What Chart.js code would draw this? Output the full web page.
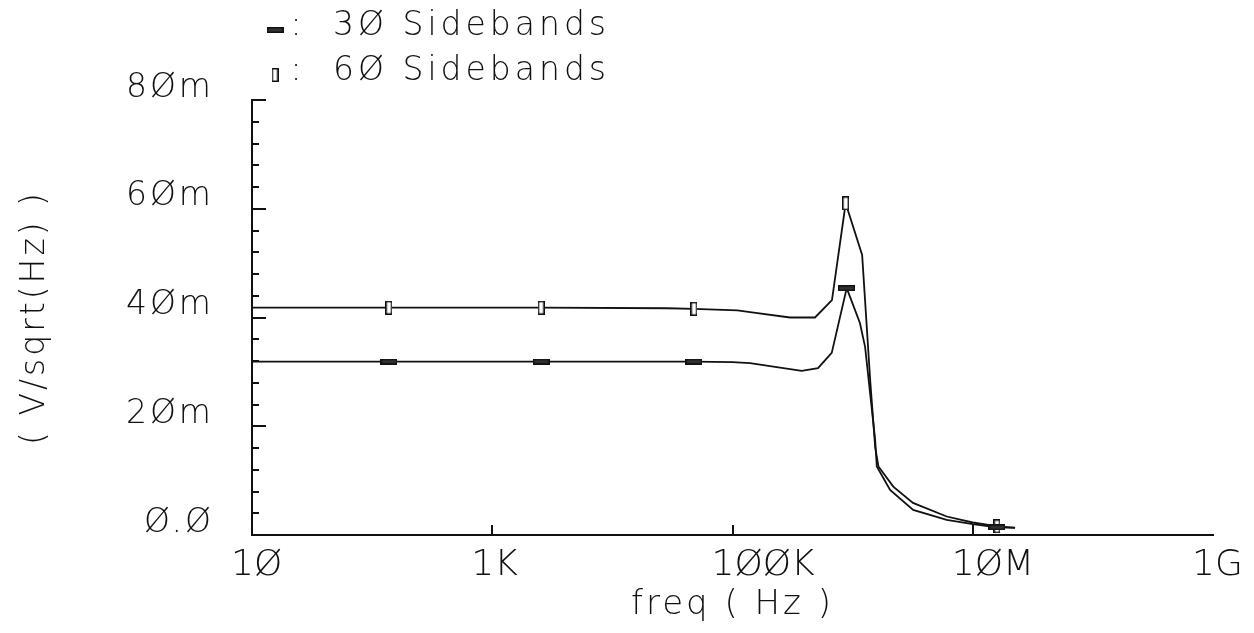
<!DOCTYPE html>
<html>
<head>
<meta charset="utf-8">
<script src="https://cdn.jsdelivr.net/npm/chart.js@4/dist/chart.umd.min.js"></script>
<style>
  html, body { margin: 0; padding: 0; background: #fff; }
  canvas { display: block; }
</style>
</head>
<body>
<canvas id="noiseChart" width="1254" height="633"></canvas>
<script>
// axis ticks
const xTickValues = [10, 1e3, 1e5, 1e7, 1e9];
const xTickLabels = ['1Ø', '1K', '1ØØK', '1ØM', '1G'];
const yTickValues = [0, 20, 40, 60, 80];
const yTickLabels = ['Ø.Ø', '2Øm', '4Øm', '6Øm', '8Øm'];

// 30 sidebands (values in mV/sqrt(Hz))
const freq30 = [10, 138, 2550, 47800, 100000, 140000, 377000, 515000, 670000, 893000,
  1150000, 1270000, 1540000, 1590000, 2050000, 3190000, 6070000, 10000000, 15900000, 22500000];
const vals30 = [31.9, 31.9, 31.9, 31.9, 31.8, 31.6, 30.2, 30.7, 33.5, 45.4,
  39.0, 34.6, 17.5, 12.6, 8.3, 4.6, 2.8, 2.0, 1.4, 1.3];
const markers30 = [138, 2550, 47800, 893000, 15900000];

// 60 sidebands
const freq60 = [10, 138, 2550, 28500, 47800, 110000, 140000, 301000, 486000, 673000, 875000,
  1200000, 1400000, 1540000, 1640000, 2180000, 3180000, 6070000, 10000000, 13900000, 15900000, 22500000];
const vals60 = [41.8, 41.8, 41.8, 41.7, 41.6, 41.3, 41.0, 40.0, 40.0, 43.2, 61.0,
  51.5, 28.5, 16.2, 12.6, 8.9, 5.9, 3.4, 2.3, 1.8, 1.6, 1.35];
const markers60 = [138, 2550, 47800, 875000, 15900000];

const seriesLabels = ['3Ø Sidebands', '6Ø Sidebands'];

const FAMILY = '"DejaVu Sans", sans-serif';
const FONT = { family: FAMILY, size: 33, weight: 200 };
const XFONT = { family: FAMILY, size: 36, weight: 200 };
const TFONT = { family: FAMILY, size: 34, weight: 200 };
const INK = '#111';

function makeMarker(w, h, fill) {
  const c = document.createElement('canvas');
  c.width = w; c.height = h;
  const g = c.getContext('2d');
  g.fillStyle = fill;
  g.fillRect(0, 0, w, h);
  g.strokeStyle = INK;
  g.lineWidth = 1.5;
  g.strokeRect(0.75, 0.75, w - 1.5, h - 1.5);
  return c;
}
const mark30 = makeMarker(17, 6, '#333');
const mark60 = makeMarker(7, 14, '#fff');

function toPoints(xs, ys) {
  return xs.map((f, i) => ({ x: f, y: ys[i] }));
}

const textSpacing = {
  id: 'textSpacing',
  beforeDraw(chart) { chart.ctx.letterSpacing = '3px'; }
};

// small inward tick marks, like the simulator plot
const innerTicks = {
  id: 'innerTicks',
  afterDraw(chart) {
    const { ctx, chartArea: a } = chart;
    const xs = chart.scales.x, ys = chart.scales.y;
    ctx.save();
    ctx.strokeStyle = INK;
    ctx.lineWidth = 2;
    ctx.beginPath();
    ys.ticks.forEach(t => {
      const py = Math.round(ys.getPixelForValue(t.value));
      const len = yTickValues.includes(t.value) ? 14 : 7;
      ctx.moveTo(a.left, py);
      ctx.lineTo(a.left + len, py);
    });
    xs.ticks.forEach(t => {
      if (t.value === xs.min || t.value === xs.max) return;
      const px = Math.round(xs.getPixelForValue(t.value));
      ctx.moveTo(px, a.bottom);
      ctx.lineTo(px, a.bottom - 10);
    });
    ctx.stroke();
    ctx.restore();
  }
};

const markerLegend = {
  id: 'markerLegend',
  afterDraw(chart) {
    const ctx = chart.ctx;
    const rows = [35, 80];
    const marks = [mark30, mark60];
    const markY = [30, 75];
    ctx.save();
    ctx.fillStyle = INK;
    ctx.font = `${FONT.weight} ${FONT.size}px ${FONT.family}`;
    ctx.letterSpacing = '4px';
    ctx.textBaseline = 'alphabetic';
    chart.data.datasets.forEach((ds, i) => {
      const m = marks[i];
      ctx.drawImage(m, 275 - m.width / 2, markY[i] - m.height / 2);
      ctx.textAlign = 'center';
      ctx.fillText(':', 298, rows[i]);
      ctx.textAlign = 'left';
      ctx.fillText(ds.label, 333, rows[i]);
    });
    ctx.restore();
  }
};

new Chart(document.getElementById('noiseChart'), {
  type: 'line',
  data: {
    datasets: [
      {
        label: seriesLabels[0],
        data: toPoints(freq30, vals30),
        borderColor: INK,
        borderWidth: 1.8,
        pointStyle: mark30,
        pointRadius: freq30.map(f => markers30.includes(f) ? 4 : 0),
        tension: 0
      },
      {
        label: seriesLabels[1],
        data: toPoints(freq60, vals60),
        borderColor: INK,
        borderWidth: 1.8,
        pointStyle: mark60,
        pointRadius: freq60.map(f => markers60.includes(f) ? 4 : 0),
        tension: 0
      }
    ]
  },
  options: {
    responsive: false,
    animation: false,
    devicePixelRatio: 1,
    layout: { padding: { top: 100, right: 41, bottom: 0, left: 0 } },
    plugins: {
      legend: { display: false },
      tooltip: { enabled: false }
    },
    scales: {
      x: {
        type: 'logarithmic',
        min: 10,
        max: 1e9,
        afterBuildTicks: s => { s.ticks = xTickValues.map(v => ({ value: v })); },
        afterFit: s => {
          s.height = 98;
          s.paddingLeft = 0;
          s.paddingRight = 0;
          // frequency labels are drawn without the extra letter spacing
          const drawLabels = s.drawLabels;
          s.drawLabels = function (area) {
            this.ctx.save();
            this.ctx.letterSpacing = '0px';
            drawLabels.call(this, area);
            this.ctx.restore();
          };
        },
        grid: { display: false },
        border: { display: true, color: INK, width: 2 },
        ticks: {
          autoSkip: false,
          maxRotation: 0,
          minRotation: 0,
          align: 'start',
          labelOffset: -21,
          padding: 1,
          color: INK,
          font: XFONT,
          callback: v => {
            const i = xTickValues.indexOf(v);
            return i >= 0 ? xTickLabels[i] : '';
          }
        },
        title: {
          display: true,
          text: 'freq ( Hz )',
          color: INK,
          font: TFONT,
          padding: { top: 0, bottom: 7 }
        }
      },
      y: {
        min: 0,
        max: 80,
        afterFit: s => { s.width = 252; },
        grid: { display: false },
        border: { display: true, color: INK, width: 2 },
        ticks: {
          stepSize: 4,
          autoSkip: false,
          padding: 30,
          labelOffset: -12,
          color: INK,
          font: FONT,
          callback: v => {
            const i = yTickValues.indexOf(v);
            return i >= 0 ? yTickLabels[i] : '';
          }
        },
        title: {
          display: true,
          text: '( V/sqrt(Hz) )',
          color: INK,
          font: FONT,
          padding: { top: 16, bottom: 0 }
        }
      }
    }
  },
  plugins: [textSpacing, innerTicks, markerLegend]
});
</script>
</body>
</html>
